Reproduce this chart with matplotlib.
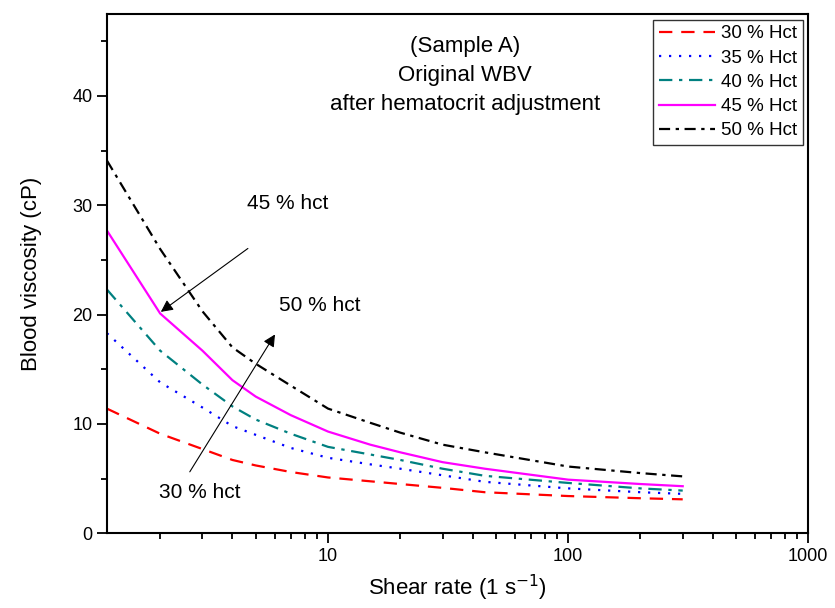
import numpy as np
import matplotlib
matplotlib.use("Agg")
import matplotlib.pyplot as plt
from matplotlib.ticker import MultipleLocator, FixedLocator, NullFormatter, LogLocator

plt.rcParams.update({
    "font.family": ["Liberation Sans", "DejaVu Sans"],
    "font.size": 13,
})

# shear rate (1/s)
shear = [1.2, 2, 3, 4, 5, 7, 10, 15, 20, 30, 45, 100, 200, 300]
# blood viscosity (cP) per hematocrit
hct30 = [11.4, 9.1, 7.7, 6.7, 6.2, 5.6, 5.1, 4.75, 4.5, 4.15, 3.75, 3.4, 3.2, 3.1]
hct35 = [18.3, 13.8, 11.5, 9.8, 9.0, 7.8, 6.9, 6.3, 5.9, 5.3, 4.7, 4.1, 3.75, 3.6]
hct40 = [22.3, 16.7, 13.6, 11.6, 10.4, 9.1, 7.9, 7.2, 6.7, 5.9, 5.25, 4.6, 4.1, 3.9]
hct45 = [27.7, 20.1, 16.7, 14.0, 12.5, 10.8, 9.3, 8.1, 7.4, 6.5, 5.9, 4.9, 4.5, 4.3]
hct50 = [34.1, 26.0, 20.3, 17.0, 15.5, 13.5, 11.4, 10.1, 9.2, 8.1, 7.4, 6.1, 5.5, 5.2]

labels = ["30 % Hct", "35 % Hct", "40 % Hct", "45 % Hct", "50 % Hct"]
series = [hct30, hct35, hct40, hct45, hct50]
colors = ["#FF0000", "#0000FF", "#008080", "#FF00FF", "#000000"]
dashes = [(6, 4), (1, 3.5), (6, 3, 1.5, 3), None, (5, 2.5, 1.5, 2.5)]

fig = plt.figure(figsize=(8.35, 6.08), dpi=100)
ax = fig.add_axes([0.128, 0.123, 0.84, 0.854])

for y, lab, c, d in zip(series, labels, colors, dashes):
    ln, = ax.plot(shear, y, color=c, lw=1.6, label=lab)
    if d is not None:
        ln.set_dashes(d)

ax.set_xscale("log")
ax.set_xlim(1.2, 1000)
ax.set_ylim(0, 47.5)
ax.yaxis.set_major_locator(MultipleLocator(10))
ax.yaxis.set_minor_locator(MultipleLocator(5))
ax.xaxis.set_major_locator(FixedLocator([10, 100, 1000]))
ax.xaxis.set_minor_locator(LogLocator(base=10, subs=np.arange(2, 10), numticks=20))
ax.xaxis.set_minor_formatter(NullFormatter())
ax.set_xticklabels(["10", "100", "1000"])

ax.tick_params(which="both", direction="out", top=False, right=False, width=1.3, labelsize=13)
ax.tick_params(which="major", length=7)
ax.tick_params(which="minor", length=4)
for s in ax.spines.values():
    s.set_linewidth(1.5)

ax.set_xlabel("Shear rate (1 s$^{-1}$)", fontsize=16, labelpad=6)
ax.set_ylabel("Blood viscosity (cP)", fontsize=16, labelpad=22)

leg = ax.legend(loc="upper right", fontsize=13.5, frameon=True, fancybox=False,
                edgecolor="black", handlelength=3.0, borderaxespad=0.3,
                labelspacing=0.38, handletextpad=0.3, borderpad=0.3)
leg.get_frame().set_linewidth(1.0)

ax.text(0.511, 0.958, "(Sample A)\nOriginal WBV\nafter hematocrit adjustment",
        transform=ax.transAxes, ha="center", va="top", fontsize=16,
        linespacing=1.5)

arrow = dict(arrowstyle="-|>", color="black", lw=0.8, mutation_scale=18)
ax.annotate("", xy=(1.97, 20.1), xytext=(4.74, 26.2), arrowprops=arrow)
ax.text(6.8, 30.2, "45 % hct", ha="center", va="center", fontsize=15)
ax.annotate("", xy=(6.1, 18.4), xytext=(2.62, 5.4), arrowprops=arrow)
ax.text(9.2, 20.8, "50 % hct", ha="center", va="center", fontsize=15)
ax.text(2.92, 3.75, "30 % hct", ha="center", va="center", fontsize=15)

fig.savefig("out.png", dpi=100)
